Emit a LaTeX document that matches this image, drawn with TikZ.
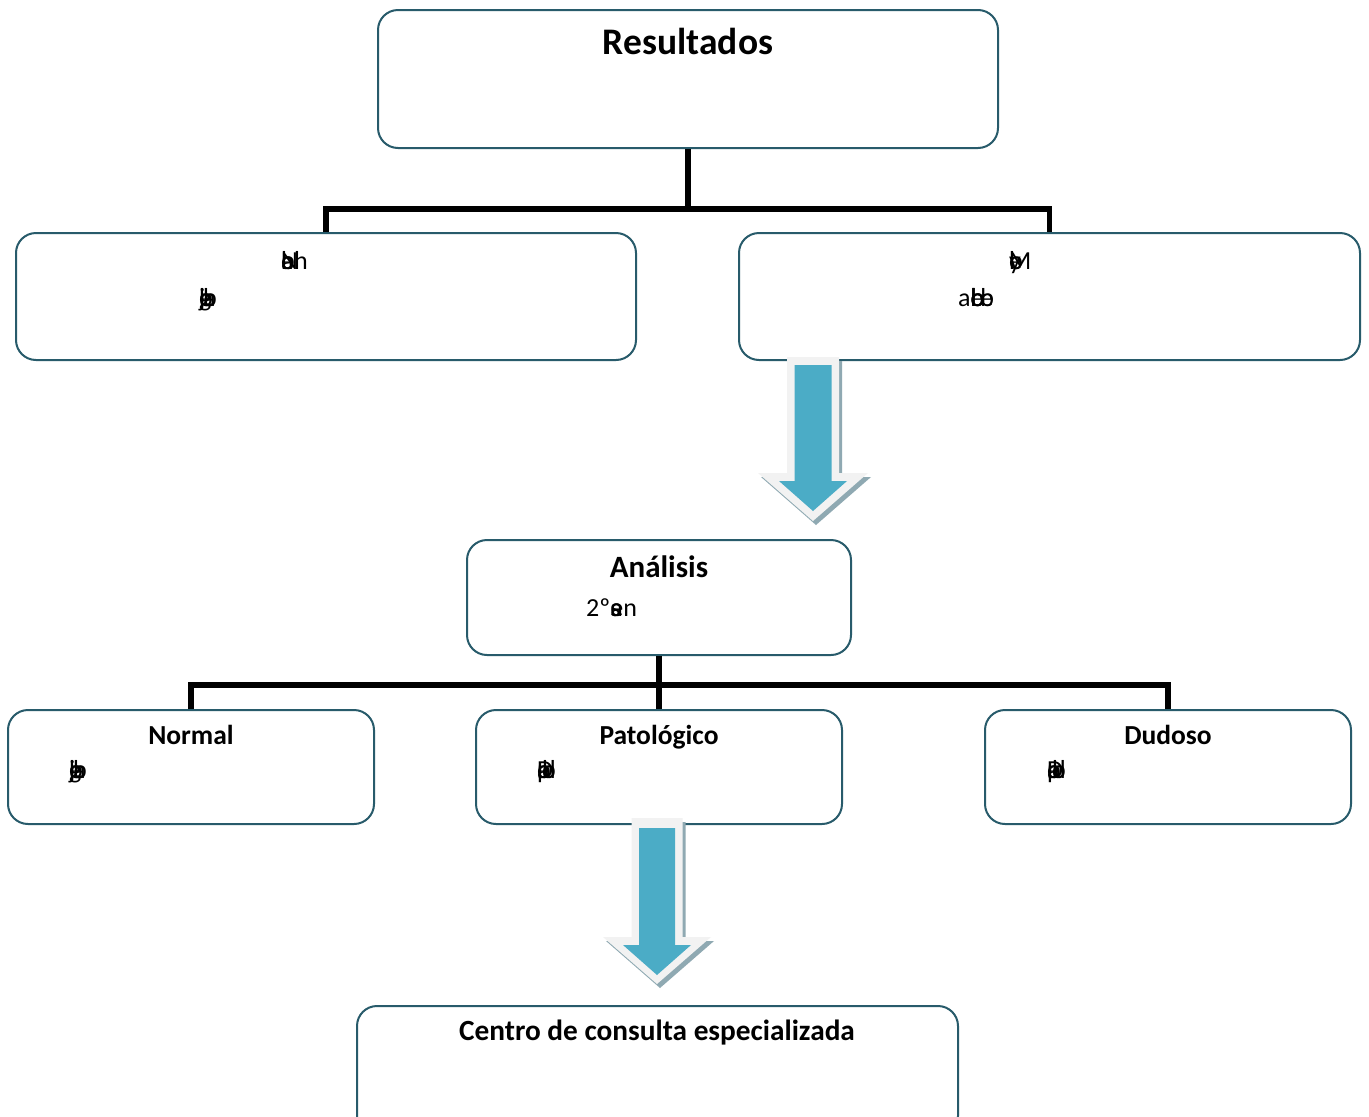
\documentclass[tikz,border=0pt]{standalone}
\usepackage{fontspec}
\setmainfont{Carlito}
\begin{document}
\definecolor{edge}{HTML}{285B6B}
\definecolor{arrowblue}{HTML}{4BACC6}
\definecolor{arrowrim}{HTML}{F2F2F2}
\definecolor{arrowshade}{HTML}{8FA9B2}
% glyphs printed on top of each other
\newcommand{\ovl}[1]{\makebox[0pt][l]{#1}}
\newcommand{\fs}[1]{\fontsize{#1}{#1}\selectfont}
\begin{tikzpicture}[x=1pt,y=-1pt,
  box/.style={draw=edge, line width=2pt, rounded corners=20pt, fill=white, inner sep=0pt},
  conn/.style={draw=black, line width=5.5pt, line join=miter},
  title/.style={anchor=base, inner sep=0pt, font=\bfseries\fs{37.5}},
  head/.style={anchor=base, inner sep=0pt, font=\bfseries\fs{27.5}},
  body/.style={anchor=base west, inner sep=0pt, font=\fs{26}}]
\clip (0,0) rectangle (1369,1117);
\fill[white] (0,0) rectangle (1369,1117);

% boxes
\node[box, minimum width=620pt, minimum height=138pt] (res) at (688,79) {};
\node[box, minimum width=620pt, minimum height=127pt] (lft) at (326,296.5) {};
\node[box, minimum width=621pt, minimum height=127pt] (rgt) at (1049.5,296.5) {};
\node[box, minimum width=384pt, minimum height=115pt] (ana) at (659,597.5) {};
\node[box, minimum width=366pt, minimum height=114pt] (nor) at (191,767) {};
\node[box, minimum width=366pt, minimum height=114pt] (pat) at (659,767) {};
\node[box, minimum width=366pt, minimum height=114pt] (dud) at (1168,767) {};
\node[box, minimum width=601pt, minimum height=130pt] (cen) at (657.5,1071) {};

% connectors
\coordinate (j1) at (688,209);
\coordinate (j2) at (659,685);
\draw[conn] (res.south) -- (j1);
\draw[conn] (lft.north) |- (j1) -| (rgt.north);
\draw[conn] (ana.south) -- (j2);
\draw[conn] (nor.north) |- (j2) -| (dud.north);
\draw[conn] (pat.north) -- (j2);

% texts
\node[title] (tres) at (688,54) {Resultados};
\node[body] (tl1) at (281,269) {\ovl{N}\ovl{a}\ovl{b}eh};
\node[body] (tl2) at (199,306) {\ovl{j}\ovl{g}\ovl{b}\ovl{e}\hspace{4pt}\ovl{b}a};
\node[body] (tr1) at (1009,269) {\ovl{b}\ovl{e}\ovl{y}M};
\node[body] (tr2) at (958,306) {a\ovl{l}\ovl{b}\ovl{c}\ovl{e}b\hspace{-4pt}\ovl{b}e};
\node[head, font=\bfseries\fs{31}] (tana) at (659,577) {Análisis};
\node[body] (tana2) at (586,616) {2º\ovl{s}\ovl{a}en};
\node[head] (tnor) at (191,744) {Normal};
\node[body] (tnor2) at (69,778) {\ovl{j}\ovl{g}\ovl{b}\ovl{e}\hspace{4pt}\ovl{b}a};
\node[head] (tpat) at (659,744) {Patológico};
\node[body] (tpat2) at (537,778) {\ovl{D}\ovl{a}\ovl{e}\ovl{p}\hspace{5pt}\ovl{d}b};
\node[head] (tdud) at (1168,744) {Dudoso};
\node[body] (tdud2) at (1047,778) {\ovl{D}\ovl{a}\ovl{e}\ovl{p}\hspace{5pt}\ovl{d}b};
\node[head, font=\bfseries\fs{29.3}] (tcen) at (657,1040) {Centro de consulta especializada};

% block arrows: shadow, light rim, blue core
\foreach \cx/\rs/\rt/\rh/\rw/\rp/\cs/\ct/\ch/\cw/\cp in
  {813/26/357/473/55/521/18.5/365/481/34/511,
   657/25.5/818/937/54/984/18/828/945/34/975}{
  \fill[arrowshade, shift={(3,4)}]
    (\cx-\rs,\rt) -- (\cx+\rs,\rt) -- (\cx+\rs,\rh) -- (\cx+\rw,\rh) -- (\cx,\rp)
    -- (\cx-\rw,\rh) -- (\cx-\rs,\rh) -- cycle;
  \fill[arrowrim]
    (\cx-\rs,\rt) -- (\cx+\rs,\rt) -- (\cx+\rs,\rh) -- (\cx+\rw,\rh) -- (\cx,\rp)
    -- (\cx-\rw,\rh) -- (\cx-\rs,\rh) -- cycle;
  \fill[arrowblue]
    (\cx-\cs,\ct) -- (\cx+\cs,\ct) -- (\cx+\cs,\ch) -- (\cx+\cw,\ch) -- (\cx,\cp)
    -- (\cx-\cw,\ch) -- (\cx-\cs,\ch) -- cycle;
}
\end{tikzpicture}
\end{document}
